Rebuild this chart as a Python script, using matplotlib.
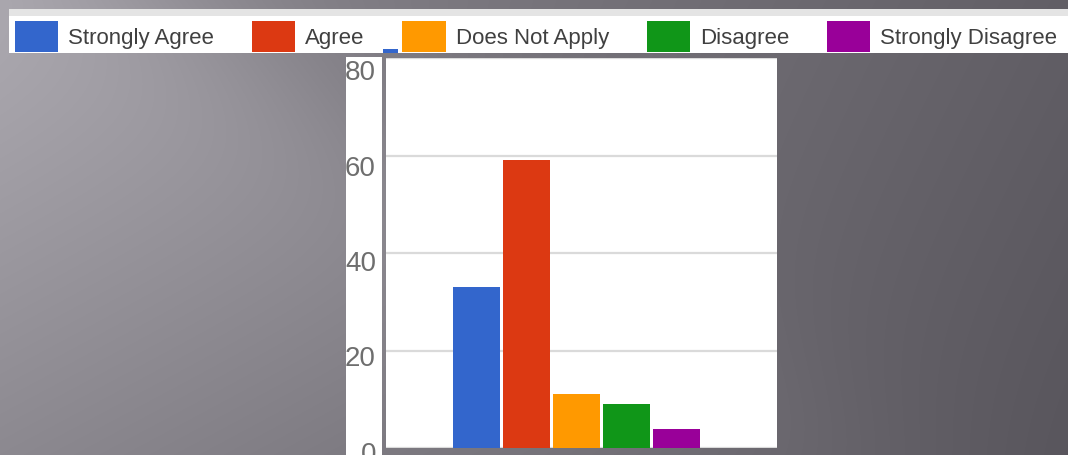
import numpy as np
import matplotlib.pyplot as plt
from matplotlib.patches import Rectangle

plt.rcParams['font.family'] = ['Liberation Sans', 'DejaVu Sans']

categories = ["Strongly Agree", "Agree", "Does Not Apply", "Disagree", "Strongly Disagree"]
values = [33, 59, 11, 9, 4]
colors = ["#3366cc", "#dc3912", "#ff9900", "#109618", "#990099"]
y_ticks = [0, 20, 40, 60, 80]

W, H = 1068, 455
fig = plt.figure(figsize=(W / 100, H / 100), dpi=100)


def box(x0, y0, x1, y1):
    # pixel box (origin top left) -> figure fraction rect
    return [x0 / W, 1 - y1 / H, (x1 - x0) / W, (y1 - y0) / H]


# slide background: grey gradient with a diagonal light band
bg = fig.add_axes([0, 0, 1, 1])
yy, xx = np.mgrid[0:H, 0:W].astype(float)
u = xx - 1.54 * yy
light = 174 - 0.075 * yy - 0.04 * xx
dark = 140 - 0.04 * xx - 0.02 * yy
t = 1 / (1 + np.exp((u - 160) / 80))
L = dark + (light - dark) * t
img = np.clip(np.dstack([L, L - 3, L + 4]) / 255, 0, 1)
bg.imshow(img, aspect='auto', interpolation='bilinear')
bg.axis('off')

# legend strip
leg_ax = fig.add_axes(box(9, 9, W, 53))
leg_ax.set_xlim(9, W)
leg_ax.set_ylim(53, 9)
leg_ax.set_facecolor('white')
leg_ax.set_xticks([])
leg_ax.set_yticks([])
for s in leg_ax.spines.values():
    s.set_visible(False)
leg_ax.add_patch(Rectangle((9, 9), W - 9, 7, color='#e4e4e4', lw=0))
leg_ax.add_patch(Rectangle((383, 49), 15, 4, color=colors[0], lw=0))

# main chart panel
ax = fig.add_axes(box(386, 58, 777, 448))
x = np.arange(len(values))
bars = ax.bar(x, values, width=0.94, color=colors, linewidth=0, zorder=3)
ax.set_xlim(-1.8, 6.02)
ax.set_ylim(3 / 4.95, (451 - 58) / 4.95)
ax.set_yticks(y_ticks)
ax.set_xticks([])
ax.set_axisbelow(True)
ax.yaxis.grid(True, color='#dadada', linewidth=1.6)
ax.tick_params(left=False, bottom=False, labelleft=False, labelbottom=False)
ax.set_facecolor('white')
for s in ax.spines.values():
    s.set_visible(False)

# y tick labels live in their own white strip (left edge cuts the digits)
lab_ax = fig.add_axes(box(346, 57, 382, H))
lab_ax.set_xlim(0, 36)
lab_ax.set_ylim(0, (H - 57) / 4.775)
lab_ax.set_facecolor('white')
lab_ax.set_xticks([])
lab_ax.set_yticks([])
for s in lab_ax.spines.values():
    s.set_visible(False)
for v in y_ticks:
    lab_ax.text(30, v, str(v), ha='right', va='center', fontsize=20,
                color='#6e6e6e', clip_on=True)

fs = 16
fig.legend(bars.patches, categories, loc='center left',
           bbox_to_anchor=(15 / W, 1 - 36.5 / H), ncol=5, frameon=False,
           fontsize=fs, labelcolor='#404040', borderpad=0, borderaxespad=0,
           handlelength=1.94, handleheight=1.77, handletextpad=0.45,
           columnspacing=1.71)

fig.savefig('out.png', dpi=100)
